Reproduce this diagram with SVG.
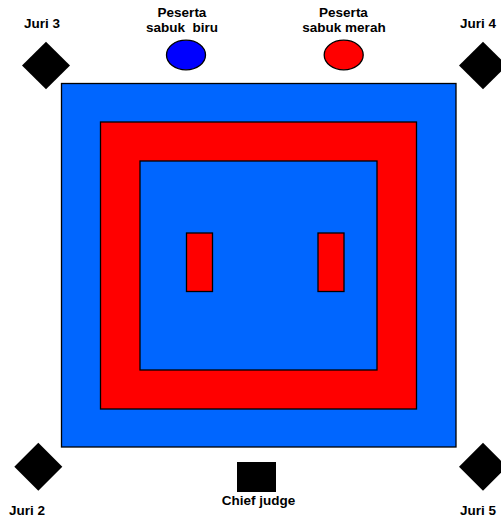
<svg xmlns="http://www.w3.org/2000/svg" width="501" height="518" viewBox="0 0 501 518">
<style>
.t{font-family:"Liberation Sans",Arial,sans-serif;font-weight:bold;font-size:13.5px;fill:#000;text-anchor:middle}
.b{fill:#0066FF;stroke:#000;stroke-width:1.3}
.r{fill:#FF0000;stroke:#000;stroke-width:1.3}
.k{fill:#000}
</style>
<rect width="501" height="518" fill="#fff"/>
<g id="mat">
<rect class="b" x="61.5" y="83.5" width="394.5" height="363.5"/>
<rect class="r" x="100.5" y="122" width="316" height="287"/>
<rect class="b" x="140" y="161" width="237" height="209"/>
<rect class="r" x="186.5" y="233" width="26" height="58.5"/>
<rect class="r" x="318" y="233" width="26" height="58.5"/>
</g>
<g id="blue-participant">
<ellipse cx="186" cy="55" rx="19.5" ry="14.8" fill="#0000FF" stroke="#000" stroke-width="1.3"/>
<text class="t" x="182" y="17">Peserta</text>
<text class="t" x="182" y="32" xml:space="preserve">sabuk  biru</text>
</g>
<g id="red-participant">
<ellipse cx="343.7" cy="55" rx="19.5" ry="14.8" fill="#FF0000" stroke="#000" stroke-width="1.3"/>
<text class="t" x="343.5" y="17">Peserta</text>
<text class="t" x="344" y="32">sabuk merah</text>
</g>
<g id="juri3">
<polygon class="k" points="46,41.7 70,65.5 46,89.3 22,65.5"/>
<text class="t" x="42" y="28">Juri 3</text>
</g>
<g id="juri4">
<polygon class="k" points="483,41.7 507,65.5 483,89.3 459,65.5"/>
<text class="t" x="478" y="28">Juri 4</text>
</g>
<g id="juri2">
<polygon class="k" points="38.3,442.7 62.3,466.7 38.3,490.7 14.3,466.7"/>
<text class="t" x="27" y="515">Juri 2</text>
</g>
<g id="juri5">
<polygon class="k" points="483,442.7 507,466.7 483,490.7 459,466.7"/>
<text class="t" x="478" y="515">Juri 5</text>
</g>
<g id="chief-judge">
<rect class="k" x="237" y="462" width="39" height="30"/>
<text class="t" x="258.5" y="505">Chief judge</text>
</g>
<g id="connectors"/>
</svg>
